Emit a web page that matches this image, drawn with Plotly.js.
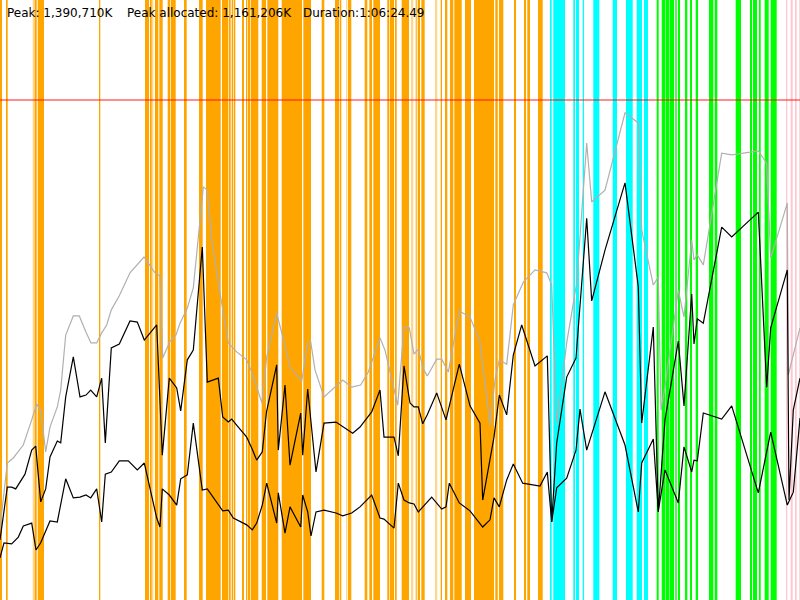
<!DOCTYPE html>
<html>
<head>
<meta charset="utf-8">
<script src="https://cdn.plot.ly/plotly-3.0.1.min.js"></script>
<style>html,body{margin:0;padding:0;background:#fff;}#chart{width:800px;height:600px;}</style>
</head>
<body>
<div id="chart"></div>
<script>
// x: sample position across the 1:06:24.49 run (0..800), y: memory in MB (thousands of K)
var committedX = [0,7.3,13.3,23.3,31.7,36.7,40.7,45.7,50,57.3,60.7,65.7,73.3,79.3,86,91,96.7,101.7,106.7,111.3,119.3,130,144,155,160,162.7,170,176,180,187.3,193.3,203.3,207.3,211.7,220,228.3,236.7,246.7,251.7,262,266.7,276.7,284,290,301.7,307.7,310.7,315,324,342.7,351.7,360.7,368.3,380,385,397.7,404,409.3,414,418.3,423.3,427.3,436.7,441.7,448.3,459.3,470,480,490,495,499.3,506.7,513.3,523.3,535,546.7,551.7,556.7,566.7,576.7,586.7,591.7,605,625,638.3,641.7,653.3,658.3,661,665,678.3,684,691.7,694,697.3,703.3,721.7,731.7,758.3,766.7,770.7,787.3,788.3,800];
var committedY = [200,381,395,431,501,545,528,412,481,537,584,737,790,790,745,715,715,743,765,807,846,910,954,910,901,673,720,737,770,812,868,1149,1140,1001,854,715,690,668,634,548,676,798,718,648,609,715,718,640,565,612,592,598,634,729,695,542,759,757,684,698,643,623,670,670,634,804,787,718,487,612,668,656,821,884,918,910,876,492,715,882,1271,1107,1140,1355,1327,1029,876,898,528,592,862,787,1001,946,960,932,1243,1238,1249,1215,951,1104,626,757];

var usedX = [0,7.3,11.7,15.7,25,31.7,35.7,40.7,45.7,50,57.3,60.7,65.7,73.3,80,86,90.7,96.7,101.7,105.3,111.3,119.3,130,137.3,144.3,156.7,162.3,169.3,176.7,180.7,187.3,193.3,202.3,207.3,218.3,222.7,228.3,231.7,238.3,246.7,251.7,256.7,262.3,266.5,276.7,278.3,285,290,300.7,302.7,307.7,316,324,336,352.7,360,371.7,380,384,394,398.3,404,410,414,418.3,422.7,427.3,436.7,446,459.3,470,480,482.7,490,494,499.3,506.7,513.3,521.7,535,547.3,551.7,556.7,566.7,576,586.7,591.7,605,625,638.3,641.7,653.3,658.3,665,678.3,684,691.7,694,697.3,703.3,721.7,731.7,758.3,766.7,770.7,787.3,789,793.3,800];
var usedY = [167,314,314,309,350,417,428,273,309,398,442,437,565,676,565,570,584,565,617,437,701,712,776,773,723,765,403,617,590,526,668,695,982,606,617,509,495,503,481,453,423,389,412,523,654,417,598,375,520,403,587,356,492,495,464,481,523,584,453,453,401,651,548,537,537,490,515,576,501,656,540,492,278,389,453,570,515,681,765,651,679,217,437,620,673,1062,832,973,1160,871,492,759,245,501,720,540,851,712,782,770,1037,1010,1079,592,757,918,278,528,617];

var allocX = [0,4,11.7,18.3,23.3,31.7,36,40.7,50,57.3,65.7,73.3,80,86,90.7,96.7,101.7,105.3,111.3,119.3,128.3,137.3,144.3,151.7,156.7,160,162.3,169.3,176.7,180.7,187.3,193.3,202.3,207.3,218.3,222.7,228.3,233.3,246.7,252.3,256.7,262.3,266.7,276.7,278.3,285,290,300.7,302.7,307.7,311,316,324,336,342.7,351.7,360,371.7,380,384,394,398.3,404,409.3,414,418.3,431.7,441.7,446,449.3,459.3,470,482.7,490,494,499.3,506.7,513.3,522.7,540,547.3,551.7,556.7,566.7,576,580,586.7,605,625,638.3,641.7,653.3,658.3,665,678.3,684,691.7,694,697.3,703.3,721.7,731.7,758.3,770.7,787.3,793.3,800];
var allocY = [117,159,156,175,206,214,139,159,220,217,337,284,286,292,284,309,217,350,356,387,387,362,381,286,228,203,309,292,264,337,348,492,306,309,264,248,250,228,209,195,214,264,325,214,298,186,259,203,292,245,178,245,250,242,234,242,259,292,228,225,200,325,278,270,267,245,286,253,259,325,270,248,203,223,284,259,334,378,325,317,356,217,312,339,417,531,417,579,431,245,381,448,248,362,270,426,356,389,387,520,503,540,298,467,264,300,506];

var peakK = 1390710;
var peakAllocK = 1161206;
var durationText = "1:06:24.49";

var orangeBands = [[0,2],[6,7.7],[34.7,36.7],[37.7,44],[99,100.3],[145,149],[150,151.7],[155,158.3],[159.3,162.7],[167.7,170],[170.7,175.7],[184,186.7],[199,202.7],[206,220.7],[222,228],[228.7,230.7],[231.7,233.3],[234,235.3],[242,244],[246,247.3],[248,250],[250.7,258.3],[261.7,266],[267.3,278.3],[281.7,302],[303.3,311],[321.7,324.3],[335,339.3],[340,341.3],[348,351.3],[364.7,367.3],[369.3,372],[373.3,380],[387.3,389.3],[390,394],[395,396.7],[401.7,409],[415.7,416.7],[417.7,420],[421.3,424.7],[440.7,442],[445,447.3],[450,453.3],[454.3,461.7],[465,471],[474,494],[495.3,497.7],[499,503.3],[514,516],[524,526],[527.3,530],[538,542.7]];
var lightOrangeBands = [[32.7,34.7],[151.7,153.3],[346,347.3],[411,413.3],[435,437.3]];
var cyanBands = [[550,551.7],[553.3,565],[573.3,575],[576,579],[582.7,584],[593.3,599.3],[612.7,617],[626,632.7],[636.7,642],[644,648]];
var greenBands = [[656.7,658.7],[661.7,665.5],[666,669.5],[670,674],[675.3,676.7],[678,680],[685,687.3],[690,692],[695.7,698],[709,713.3],[714.7,717.3],[735.7,741],[750,752],[753,757],[759,760.7],[764.7,768.7],[770.7,776.7]];
var pinkBands = [[786,787.3],[790.7,792.7],[795,796.7],[799.3,800]];

var shapes = [];
function addBands(list, color) {
  list.forEach(function (b) {
    shapes.push({type: 'rect', xref: 'x', yref: 'paper', x0: b[0], x1: b[1], y0: 0, y1: 1,
      fillcolor: color, line: {width: 0}, layer: 'below'});
  });
}
addBands(orangeBands, '#FFA500');
addBands(lightOrangeBands, 'rgba(255,165,0,0.45)');
addBands(cyanBands, '#00FFFF');
addBands(greenBands, '#00FF00');
addBands(pinkBands, '#FFC8D0');
shapes.push({type: 'line', xref: 'paper', yref: 'y', x0: 0, x1: 1, y0: peakK / 1000, y1: peakK / 1000,
  line: {color: 'rgba(255,0,0,0.6)', width: 1.5}});

var traces = [
  {x: committedX, y: committedY, mode: 'lines', line: {color: '#b0b0b0', width: 1.2}, hoverinfo: 'skip'},
  {x: usedX, y: usedY, mode: 'lines', line: {color: '#000000', width: 1.2}, hoverinfo: 'skip'},
  {x: allocX, y: allocY, mode: 'lines', line: {color: '#000000', width: 1.2}, hoverinfo: 'skip'}
];

function fmt(n) { return n.toString().replace(/\B(?=(\d{3})+(?!\d))/g, ','); }

var f = {family: 'DejaVu Sans, sans-serif', size: 12, color: '#000'};
var layout = {
  width: 800, height: 600,
  margin: {l: 0, r: 0, t: 0, b: 0},
  paper_bgcolor: '#ffffff', plot_bgcolor: '#ffffff',
  showlegend: false,
  xaxis: {range: [0, 800], visible: false, fixedrange: true},
  yaxis: {range: [0, 1668.85], visible: false, fixedrange: true},
  shapes: shapes,
  annotations: [
    {xref: 'paper', yref: 'paper', x: 5 / 800, y: 1 - 13 / 600, xanchor: 'left', yanchor: 'middle', showarrow: false, font: f, text: 'Peak: ' + fmt(peakK) + 'K'},
    {xref: 'paper', yref: 'paper', x: 125 / 800, y: 1 - 13 / 600, xanchor: 'left', yanchor: 'middle', showarrow: false, font: f, text: 'Peak allocated: ' + fmt(peakAllocK) + 'K'},
    {xref: 'paper', yref: 'paper', x: 301 / 800, y: 1 - 13 / 600, xanchor: 'left', yanchor: 'middle', showarrow: false, font: f, text: 'Duration:' + durationText}
  ]
};
Plotly.newPlot('chart', traces, layout, {displayModeBar: false, staticPlot: true});
</script>
</body>
</html>
